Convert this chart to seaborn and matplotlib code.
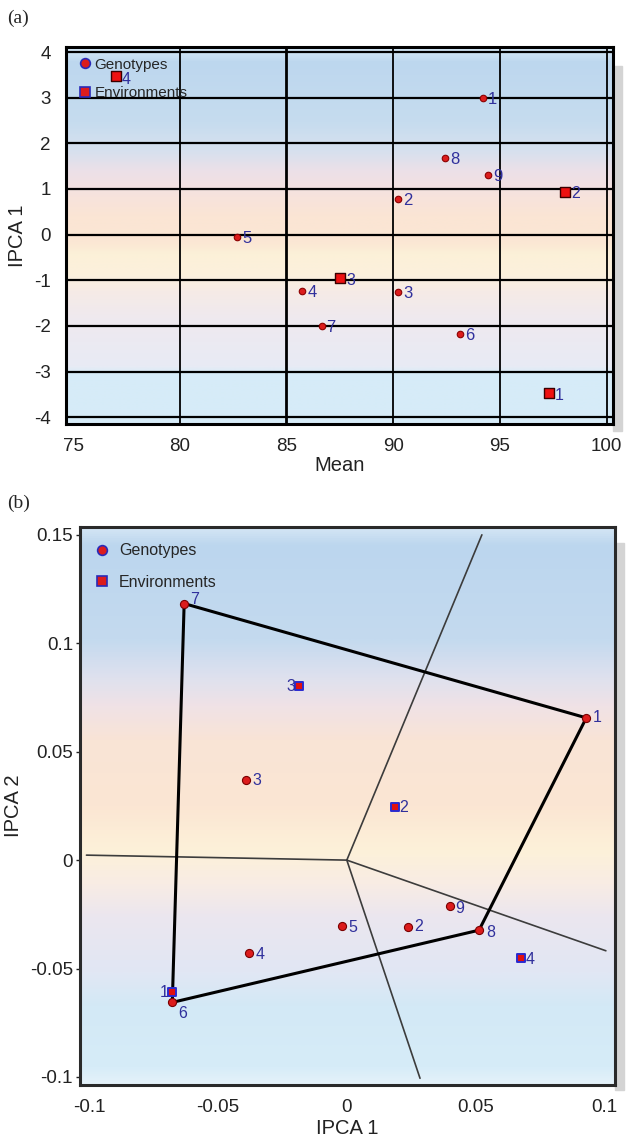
import numpy as np
import seaborn as sns
import matplotlib.pyplot as plt
from matplotlib.colors import LinearSegmentedColormap
from matplotlib.lines import Line2D
from matplotlib.patches import Rectangle

# panel (a): mean vs IPCA1
g_ids = ['1', '2', '3', '4', '5', '6', '7', '8', '9']
g_mean = [94.2, 90.25, 90.25, 85.75, 82.7, 93.15, 86.65, 92.45, 94.45]
g_ipca1_a = [2.99, 0.77, -1.26, -1.23, -0.05, -2.17, -2.01, 1.68, 1.30]
e_ids = ['1', '2', '3', '4']
e_mean = [97.3, 98.05, 87.5, 77.0]
e_ipca1_a = [-3.46, 0.94, -0.95, 3.48]

# panel (b): IPCA1 vs IPCA2
g_ipca1_b = [0.0929, 0.0237, -0.0391, -0.0380, -0.0017, -0.0677, -0.0631, 0.0513, 0.0401]
g_ipca2_b = [0.0656, -0.0307, 0.0369, -0.0430, -0.0304, -0.0656, 0.1183, -0.0323, -0.0210]
e_ipca1_b = [-0.0677, 0.0186, -0.0185, 0.0674]
e_ipca2_b = [-0.0610, 0.0243, 0.0802, -0.0450]
hull = ['7', '1', '8', '6', '7']
ray_x = [0.0524, 0.1005, 0.0284, -0.101]
ray_y = [0.150, -0.0418, -0.1006, 0.0023]

xticks_a = [75, 80, 85, 90, 95, 100]
yticks_a = [-4, -3, -2, -1, 0, 1, 2, 3, 4]
xticks_b = [-0.1, -0.05, 0, 0.05, 0.1]
yticks_b = [-0.1, -0.05, 0, 0.05, 0.1, 0.15]

sns.set_style('white')
plt.rcParams['font.family'] = ['Liberation Sans', 'DejaVu Sans']

RED = '#dc1c1c'
LBL = '#30309c'


def paint_bands(ax, stops, colors):
    cmap = LinearSegmentedColormap.from_list('bg', list(zip(stops, colors)))
    grad = np.linspace(0, 1, 500).reshape(-1, 1)
    ax.imshow(grad, cmap=cmap, aspect='auto', extent=(0, 1, 0, 1),
              transform=ax.transAxes, origin='upper', zorder=0,
              interpolation='bilinear')


def put_labels(ax, xs, ys, ids, offsets, size=11):
    for x, y, t, off in zip(xs, ys, ids, offsets):
        ha = 'right' if off[0] < 0 else 'left'
        ax.annotate(t, (x, y), xytext=off, textcoords='offset points',
                    ha=ha, va='center', color=LBL, fontsize=size, zorder=6)


fig = plt.figure(figsize=(6.33, 11.39), dpi=100)
# soft drop shadows on the right of both panels
fig.patches.append(Rectangle((0.968, 0.622), 0.014, 0.32, transform=fig.transFigure,
                             color='#d4d4d4', zorder=-1))
fig.patches.append(Rectangle((0.971, 0.043), 0.014, 0.48, transform=fig.transFigure,
                             color='#d4d4d4', zorder=-1))
ax1 = fig.add_axes([0.1043, 0.6277, 0.864, 0.331])
ax2 = fig.add_axes([0.1264, 0.0474, 0.845, 0.4899])

# ---------- (a)
paint_bands(ax1,
            [0.0, 0.04, 0.20, 0.28, 0.33, 0.40, 0.45, 0.52, 0.55, 0.60, 0.65, 0.72, 0.85, 0.87, 1.0],
            ['#d9ecf8', '#bdd7ee', '#c6dcef', '#d8e1ee', '#ece0e8', '#f7e3dc', '#fbe5d4',
             '#fbe7d4', '#fcf0d8', '#fcf1dc', '#f6ebe6', '#efe9ef', '#e8ebf5', '#d6ebf8', '#d6ecf8'])
for y in yticks_a:
    ax1.axhline(y, color='black', lw=1.6, zorder=1)
for x in xticks_a[1:]:
    ax1.axvline(x, color='black', lw=2.0 if x == 85 else 1.3, zorder=1)

sns.scatterplot(x=g_mean, y=g_ipca1_a, ax=ax1, marker='o', s=22, color=RED,
                edgecolor='#8b0000', linewidth=0.8, zorder=5)
sns.scatterplot(x=e_mean, y=e_ipca1_a, ax=ax1, marker='s', s=42, color='#ee1111',
                edgecolor='#3a0000', linewidth=1.0, zorder=5)
put_labels(ax1, g_mean, g_ipca1_a, g_ids, [(3.5, -1)] * 9, size=12)
put_labels(ax1, e_mean, e_ipca1_a, e_ids, [(4.5, -2), (4.5, -1), (4.5, -2), (4.5, -2.5)], size=11.5)

ax1.set_xlim(74.67, 100.3)
ax1.set_ylim(-4.15, 4.11)
ax1.set_xticks(xticks_a)
ax1.set_yticks(yticks_a)
ax1.set_xticklabels([str(v) for v in xticks_a])
ax1.set_yticklabels([str(v) for v in yticks_a])
ax1.tick_params(axis='both', length=0, labelsize=13.5, colors='#222222')
ax1.tick_params(axis='x', pad=10)
ax1.tick_params(axis='y', pad=11)
ax1.set_xlabel('Mean', fontsize=14.5, labelpad=1, color='#222222')
ax1.set_ylabel('IPCA 1', fontsize=14.5, labelpad=5, color='#222222')
for sp in ax1.spines.values():
    sp.set_color('black')
    sp.set_linewidth(2.2)

leg_h = [Line2D([], [], marker='o', ls='', markersize=7, mfc=RED, mec='#2a2ab8', mew=1.2),
         Line2D([], [], marker='s', ls='', markersize=6.5, mfc=RED, mec='#2a2ab8', mew=1.2)]
ax1.legend(leg_h, ['Genotypes', 'Environments'], loc='upper left',
           bbox_to_anchor=(0.024, 0.972), frameon=False, fontsize=11,
           handlelength=0.8, handletextpad=0.2, labelspacing=0.95,
           borderpad=0, borderaxespad=0)

# ---------- (b)
paint_bands(ax2,
            [0.0, 0.03, 0.20, 0.27, 0.32, 0.38, 0.50, 0.58, 0.64, 0.70, 0.80, 0.86, 0.97, 1.0],
            ['#d4e6f5', '#bcd6ee', '#c4daef', '#dfe1ee', '#f0e2e6', '#f9e4d6', '#fbe6d3',
             '#fdf1d9', '#f8ece4', '#ebe6ef', '#e1e7f4', '#d3e9f6', '#d6ecf8', '#e5f2fa'])

for rx, ry in zip(ray_x, ray_y):
    ax2.plot([0, rx], [0, ry], color='#3c3c3c', lw=1.2, zorder=2)
hx = [g_ipca1_b[g_ids.index(k)] for k in hull]
hy = [g_ipca2_b[g_ids.index(k)] for k in hull]
ax2.plot(hx, hy, color='black', lw=2.2, zorder=3, solid_joinstyle='miter')

sns.scatterplot(x=g_ipca1_b, y=g_ipca2_b, ax=ax2, marker='o', s=34, color=RED,
                edgecolor='#7a0000', linewidth=0.8, zorder=5)
sns.scatterplot(x=e_ipca1_b, y=e_ipca2_b, ax=ax2, marker='s', s=30, color='#e01010',
                edgecolor='#2a2ad0', linewidth=1.4, zorder=5)
g_off = [(4.5, 0), (4.5, 0), (4.5, 0), (5, -1), (4.5, -1), (4, -8), (4, 3), (5, -2), (4, -2)]
put_labels(ax2, g_ipca1_b, g_ipca2_b, g_ids, g_off, size=11.5)
e_off = [(-2.5, 0), (3.5, 0), (-3, 0), (4, -1)]
put_labels(ax2, e_ipca1_b, e_ipca2_b, e_ids, e_off, size=11.5)

ax2.set_xlim(-0.1035, 0.104)
ax2.set_ylim(-0.1037, 0.1536)
ax2.set_xticks(xticks_b)
ax2.set_yticks(yticks_b)
ax2.set_xticklabels(['-0.1', '-0.05', '0', '0.05', '0.1'])
ax2.set_yticklabels(['-0.1', '-0.05', '0', '0.05', '0.1', '0.15'])
ax2.tick_params(axis='x', length=0, pad=10, labelsize=13.5, colors='#222222')
ax2.tick_params(axis='y', left=True, length=3, width=1, pad=2, labelsize=13.5,
                colors='#222222')
ax2.set_xlabel('IPCA 1', fontsize=14.5, labelpad=2, color='#222222')
ax2.set_ylabel('IPCA 2', fontsize=14.5, labelpad=5, color='#222222')
for sp in ax2.spines.values():
    sp.set_color('#2a2a2a')
    sp.set_linewidth(2.2)

ax2.legend(leg_h, ['Genotypes', 'Environments'], loc='upper left',
           bbox_to_anchor=(0.030, 0.971), frameon=False, fontsize=11.5,
           handlelength=0.8, handletextpad=0.65, labelspacing=1.05,
           borderpad=0, borderaxespad=0)

fig.text(0.012, 0.984, '(a)', fontsize=14, family=['Liberation Serif', 'DejaVu Serif'],
         va='center', ha='left')
fig.text(0.012, 0.558, '(b)', fontsize=14, family=['Liberation Serif', 'DejaVu Serif'],
         va='center', ha='left')

fig.savefig('out.png', dpi=100)
